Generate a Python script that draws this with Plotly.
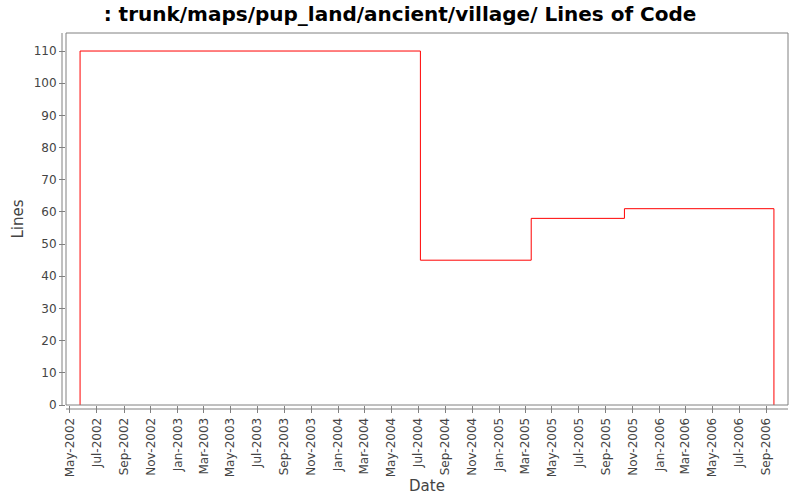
import plotly.graph_objects as go

# Data (step changes of lines of code)
change_dates = ["2002-05-24", "2002-05-24", "2004-07-06", "2005-03-15", "2005-10-13", "2006-09-18"]
line_counts = [0, 110, 45, 58, 61, 0]

title_text = ": trunk/maps/pup_land/ancient/village/ Lines of Code"
x_title = "Date"
y_title = "Lines"

FONT = "DejaVu Sans"
GRAY = "#808080"
TXT = "#444444"

fig = go.Figure()
fig.add_trace(go.Scatter(
    x=change_dates, y=line_counts, mode="lines",
    line=dict(color="#ff0000", width=1, shape="hv"),
    showlegend=False, hoverinfo="x+y",
))

W, H = 800, 500
ml, mr, mt, mb = 66, 12, 33, 95
pw = W - ml - mr
ph = H - mt - mb

fig.update_layout(
    width=W, height=H,
    margin=dict(l=ml, r=mr, t=mt, b=mb, pad=0, autoexpand=False),
    paper_bgcolor="white", plot_bgcolor="white",
    font=dict(family=FONT, color=TXT, size=12),
    title=dict(text="<b>" + title_text + "</b>", x=0.5, xanchor="center",
               y=1 - 14 / H, yanchor="middle",
               font=dict(family=FONT, size=20, color="black")),
    xaxis=dict(
        type="date", automargin=False,
        range=["2002-04-22", "2006-10-20"],
        tickmode="linear", tick0="2002-05-01", dtick="M2",
        tickformat="%b-%Y", tickangle=-90,
        ticks="outside", ticklen=7, tickcolor=GRAY, tickwidth=1,
        showgrid=False, zeroline=False, showline=False,
        tickfont=dict(family=FONT, size=12, color=TXT),
        title=dict(text=x_title, font=dict(family=FONT, size=15, color=TXT), standoff=4),
    ),
    yaxis=dict(
        automargin=False,
        range=[0, 115.6],
        tickmode="linear", tick0=0, dtick=10,
        ticks="outside", ticklen=6, tickcolor=GRAY, tickwidth=1,
        showgrid=False, zeroline=False, showline=False,
        tickfont=dict(family=FONT, size=12, color=TXT),
        title=dict(text=y_title, font=dict(family=FONT, size=15, color=TXT), standoff=6),
    ),
)

# plot border
fig.add_shape(type="rect", xref="paper", yref="paper", x0=0, x1=1, y0=0, y1=1,
              line=dict(color=GRAY, width=1), layer="above")
# offset axis lines
off_y = 4 / ph
off_x = 4 / pw
fig.add_shape(type="line", xref="paper", yref="paper", x0=0, x1=1, y0=-off_y, y1=-off_y,
              line=dict(color=GRAY, width=1))
fig.add_shape(type="line", xref="paper", yref="paper", x0=-off_x, x1=-off_x, y0=0, y1=1,
              line=dict(color=GRAY, width=1))

fig.write_html("out.html", config={"displayModeBar": False},
               post_script="document.body.style.margin='0';document.body.style.padding='0';")
